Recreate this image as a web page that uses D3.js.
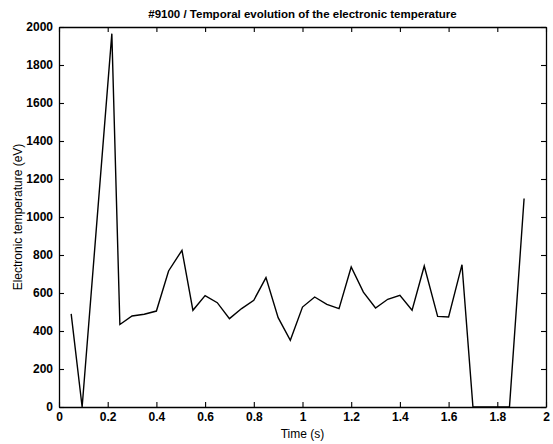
<!DOCTYPE html>
<html>
<head>
<meta charset="utf-8">
<script src="https://cdn.jsdelivr.net/npm/d3@7"></script>
<style>
  body { margin: 0; background: #fff; }
  text { font-family: "Liberation Sans", Arial, sans-serif; }
</style>
</head>
<body>
<svg id="chart" width="553" height="444"></svg>
<script>
// data
const times = [0.05, 0.095, 0.217, 0.25, 0.3, 0.35, 0.4, 0.45, 0.505, 0.55, 0.6, 0.65, 0.7, 0.75, 0.8, 0.85,
  0.9, 0.95, 1.0, 1.05, 1.1, 1.15, 1.2, 1.25, 1.3, 1.35, 1.4, 1.45, 1.5, 1.555, 1.6, 1.655, 1.7, 1.75, 1.8, 1.85, 1.91];
const temps = [490, 0, 1965, 434, 479, 488, 505, 716, 825, 509, 586, 549, 465, 518, 562, 681,
  470, 351, 526, 579, 540, 518, 737, 605, 521, 567, 588, 509, 742, 477, 474, 749, 0, 0, 0, 0, 1097];
const xTicks = [0, 0.2, 0.4, 0.6, 0.8, 1, 1.2, 1.4, 1.6, 1.8, 2];
const yTicks = [0, 200, 400, 600, 800, 1000, 1200, 1400, 1600, 1800, 2000];

const margin = { top: 27, right: 7, bottom: 37, left: 59 };
const width = 553 - margin.left - margin.right;
const height = 444 - margin.top - margin.bottom;

const svg = d3.select("#chart");
const g = svg.append("g").attr("transform", `translate(${margin.left},${margin.top})`);

const x = d3.scaleLinear().domain([0, 2]).range([0, width]);
const y = d3.scaleLinear().domain([0, 2000]).range([height, 0]);

const tick = 5;

// bottom axis, ticks pointing in
const xAxis = g.append("g").attr("transform", `translate(0,${height})`)
  .call(d3.axisBottom(x).tickValues(xTicks).tickSizeInner(-tick).tickSizeOuter(0).tickPadding(9).tickFormat(d => String(d)));
// top axis
const xTop = g.append("g")
  .call(d3.axisTop(x).tickValues(xTicks).tickSizeInner(-tick).tickSizeOuter(0).tickFormat(""));
// left axis
const yAxis = g.append("g")
  .call(d3.axisLeft(y).tickValues(yTicks).tickSizeInner(-tick).tickSizeOuter(0).tickPadding(9).tickFormat(d => String(d)));
// right axis
const yRight = g.append("g").attr("transform", `translate(${width},0)`)
  .call(d3.axisRight(y).tickValues(yTicks).tickSizeInner(-tick).tickSizeOuter(0).tickFormat(""));

[xAxis, xTop, yAxis, yRight].forEach(a => {
  a.select(".domain").attr("stroke", "#000").attr("stroke-width", 1.3);
  a.selectAll(".tick line").attr("stroke", "#000").attr("stroke-width", 1.1);
  a.selectAll(".tick text").attr("fill", "#000").attr("font-size", 12).attr("font-weight", "bold")
    .attr("font-family", "'Liberation Sans', Arial, sans-serif");
});
xAxis.selectAll(".tick text").attr("dy", "0.45em");
yAxis.selectAll(".tick text").attr("dx", "3");

const pts = times.map((t, i) => ({ t, v: temps[i] }));
const line = d3.line().x(d => x(d.t)).y(d => y(d.v));

g.append("path").datum(pts)
  .attr("fill", "none").attr("stroke", "#000").attr("stroke-width", 1.4)
  .attr("stroke-linejoin", "miter")
  .attr("d", line);

// title and labels
svg.append("text").attr("x", margin.left + width / 2).attr("y", 18)
  .attr("text-anchor", "middle").attr("font-size", 11.5).attr("font-weight", "bold")
  .text("#9100 / Temporal evolution of the electronic temperature");

svg.append("text").attr("x", margin.left + width / 2).attr("y", 438)
  .attr("text-anchor", "middle").attr("font-size", 12)
  .text("Time (s)");

svg.append("text")
  .attr("transform", `translate(22,${margin.top + height / 2}) rotate(-90)`)
  .attr("text-anchor", "middle").attr("font-size", 12)
  .text("Electronic temperature (eV)");
</script>
</body>
</html>
